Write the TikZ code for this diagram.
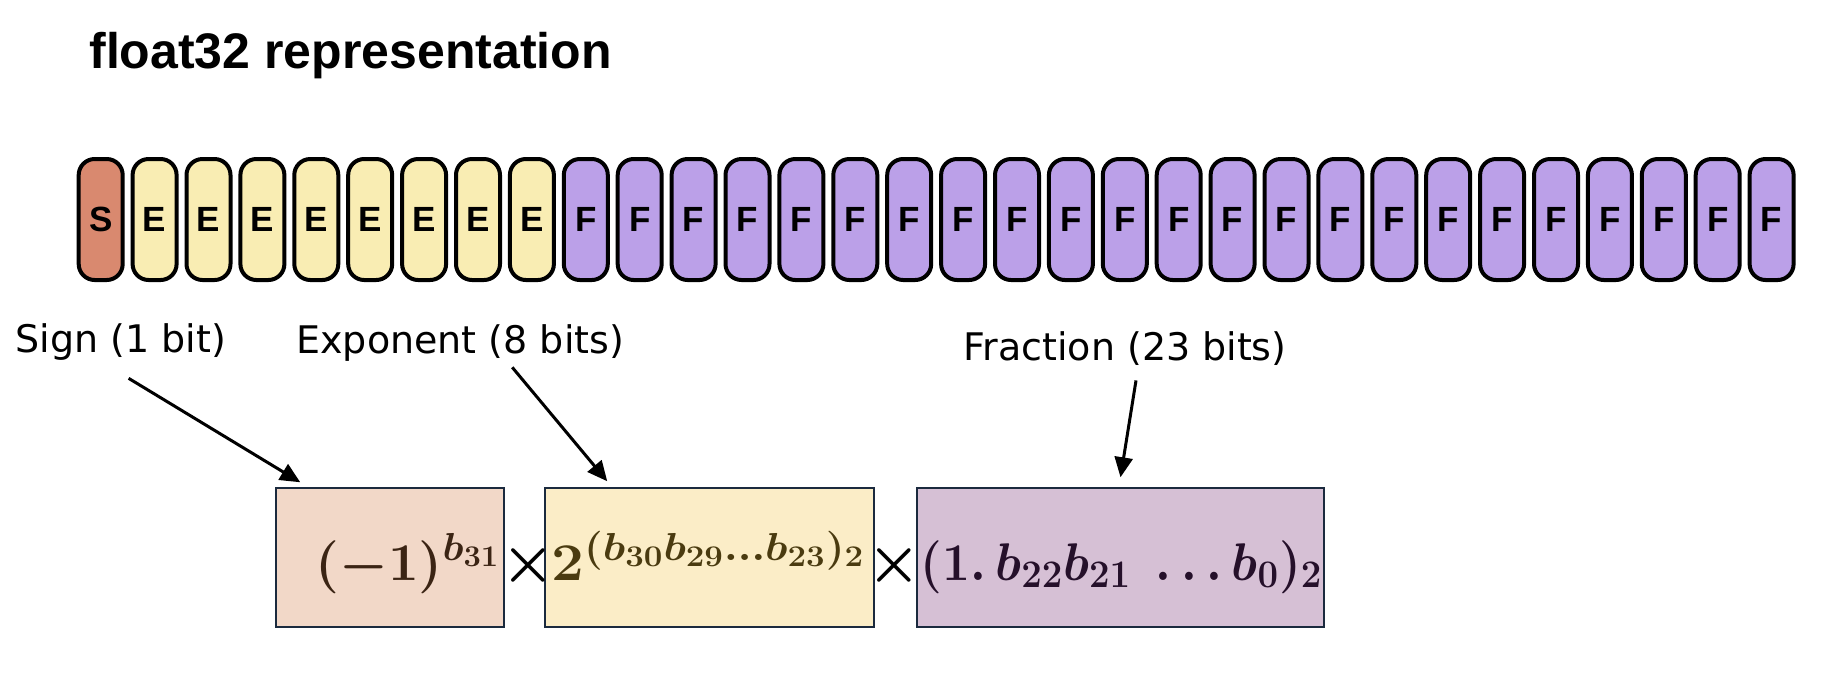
\RequirePackage{fix-cm}
\documentclass[tikz,border=0pt]{standalone}
\usepackage{graphicx}
\usepackage{fontspec}
\newfontfamily\titlefont{Liberation Sans}
\newfontfamily\labelfont{DejaVu Sans}
\usetikzlibrary{arrows.meta}
\DeclareMathSizes{26.5}{26.5}{19.5}{15}

\definecolor{signbit}{HTML}{D9896F}
\definecolor{expbit}{HTML}{F9EDB3}
\definecolor{fracbit}{HTML}{BBA0E8}
\definecolor{signfill}{HTML}{F2D8C8}
\definecolor{expfill}{HTML}{FBEDC7}
\definecolor{fracfill}{HTML}{D6C0D5}
\definecolor{boxline}{HTML}{1B2A3E}
\definecolor{signink}{HTML}{3B2414}
\definecolor{expink}{HTML}{4A3B10}
\definecolor{fracink}{HTML}{25102A}

\tikzset{
  bitbox/.style={draw=black, line width=2pt, rounded corners=8pt, minimum width=22pt,
    minimum height=60.5pt, inner sep=0pt, font=\titlefont\bfseries\fontsize{17.5}{20}\selectfont},
  mathbox/.style={draw=boxline, line width=0.75pt, minimum height=69.5pt, inner sep=0pt},
  lbl/.style={font=\labelfont\fontsize{19}{22}\selectfont, inner sep=0pt, anchor=base west},
  formula/.style={inner sep=0pt, font=\fontsize{26.5}{32}\selectfont\boldmath},
  arr/.style={-{Triangle[length=10pt,width=9pt]}, line width=1.5pt},
}

\begin{document}
\begin{tikzpicture}[x=0.5pt,y=-0.5pt]
  \useasboundingbox (0,0) rectangle (1846,682);
  \node[anchor=base west, inner sep=0pt, font=\titlefont\bfseries\fontsize{25}{30}\selectfont] (title) at (89,68) {float32 representation};

  % bits
  \node[bitbox, fill=signbit] (s) at (100.7,219.5) {S};
  \foreach \i in {1,...,8}
    \node[bitbox, fill=expbit] (e\i) at ({100.7+53.9*\i},219.5) {E};
  \foreach \i in {1,...,23}
    \node[bitbox, fill=fracbit] (f\i) at ({100.7+53.9*(\i+8)},219.5) {F};

  \node[lbl] (signlbl) at (15,352) {Sign (1 bit)};
  \node[lbl] (explbl) at (296,353) {Exponent (8 bits)};
  \node[lbl] (fraclbl) at (963,360) {Fraction (23 bits)};

  \node[mathbox, minimum width=114pt, fill=signfill] (signbox) at (390,557.5) {};
  \node[mathbox, minimum width=164.5pt, fill=expfill] (expbox) at (709.5,557.5) {};
  \node[mathbox, minimum width=203.5pt, fill=fracfill] (fracbox) at (1120.5,557.5) {};

  \node[formula, anchor=base west, text=signink] (signval) at (315,580)
    {\resizebox{92.5pt}{\height}{$(-1)^{b_{31}}$}};
  \node[formula, anchor=base west, text=expink] (expval) at (551,580)
    {\resizebox{157pt}{\height}{$2^{(b_{30}b_{29}\ldots b_{23})_2}$}};
  \node[formula, anchor=base west, text=fracink] (fracval) at (920,580)
    {\resizebox{201pt}{\height}{$(1.\,b_{22}b_{21}\ \ldots b_0)_2$}};
  \node[inner sep=0pt, font=\fontsize{30}{36}\selectfont\boldmath] (times1) at (528,565) {$\times$};
  \node[inner sep=0pt, font=\fontsize{30}{36}\selectfont\boldmath] (times2) at (894,565) {$\times$};

  \draw[arr] ([xshift=4pt,yshift=-9pt]signlbl.south) -- ([xshift=12.5pt,yshift=2.5pt]signbox.north west);
  \draw[arr] ([xshift=26pt,yshift=-3pt]explbl.south) -- ([xshift=31.5pt,yshift=3pt]expbox.north west);
  \draw[arr] ([xshift=5.5pt,yshift=-7.5pt]fraclbl.south) -- ([yshift=5pt]fracbox.north);
\end{tikzpicture}
\end{document}
